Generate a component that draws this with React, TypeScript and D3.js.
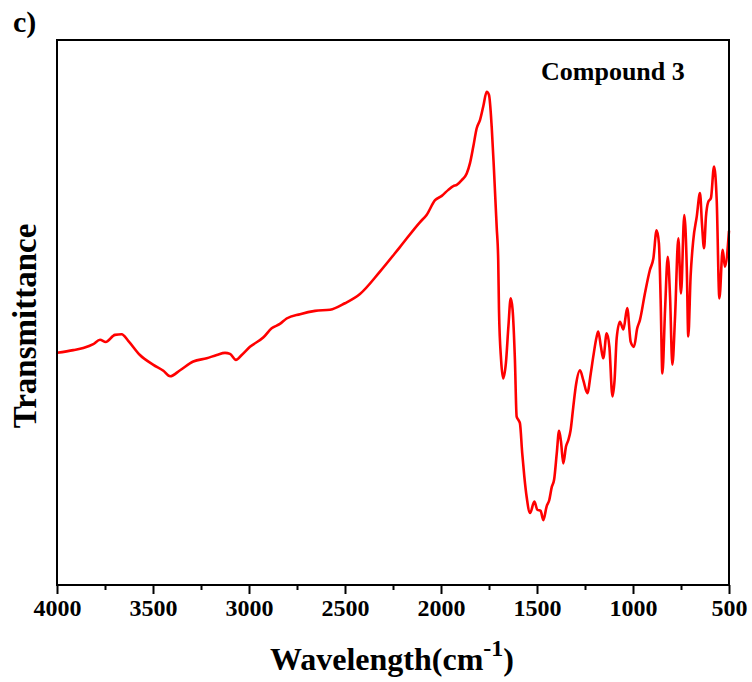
import React, { useEffect, useRef } from "react";
import * as d3 from "d3";

// FT-IR spectrum of compound 3: wavenumber (cm^-1) and relative transmittance (%)
const wavenumbers: number[] = [
  4000, 3915, 3863, 3811, 3776, 3746, 3698, 3663, 3629, 3568,
  3498, 3446, 3411, 3359, 3290, 3220, 3168, 3125, 3099, 3068,
  3038, 2995, 2926, 2882, 2839, 2804, 2734, 2656, 2578, 2500,
  2422, 2318, 2214, 2109, 2075, 2031, 1996, 1962, 1936, 1918,
  1892, 1866, 1849, 1832, 1814, 1797, 1780, 1762, 1750, 1736,
  1724, 1710, 1702, 1698, 1687, 1676, 1662, 1649, 1637, 1627,
  1615, 1606, 1597, 1589, 1577, 1566, 1554, 1536, 1514, 1498,
  1481, 1467, 1450, 1436, 1423, 1411, 1397, 1385, 1375, 1363,
  1349, 1337, 1325, 1311, 1297, 1276, 1259, 1238, 1220, 1207,
  1189, 1181, 1167, 1155, 1137, 1123, 1107, 1096, 1085, 1068,
  1050, 1030, 1012, 995, 978, 964, 938, 912, 894, 877,
  865, 856, 847, 833, 819, 807, 795, 781, 764, 750,
  733, 720, 712, 700, 686, 668, 651, 641, 630, 620,
  608, 594, 578, 564, 550, 533, 521, 500,
];

const transmittance: number[] = [
  42.6, 43.1, 43.5, 44.2, 45.0, 44.6, 45.9, 46.0, 44.8, 42.2,
  40.4, 39.3, 38.3, 39.4, 41.0, 41.6, 42.2, 42.6, 42.4, 41.3,
  42.2, 43.7, 45.4, 47.1, 47.9, 48.9, 49.7, 50.3, 50.5, 51.7,
  53.4, 57.5, 62.0, 66.6, 67.9, 70.6, 71.4, 72.5, 73.2, 73.4,
  74.3, 75.5, 77.4, 80.4, 83.8, 85.3, 87.8, 90.5, 89.9, 84.1,
  76.1, 65.7, 59.6, 50.5, 41.3, 37.9, 40.7, 47.4, 52.6, 50.5,
  41.3, 30.9, 30.3, 29.7, 24.2, 19.9, 16.2, 13.2, 15.3, 13.8,
  13.6, 11.9, 14.4, 15.6, 18.0, 19.3, 24.2, 28.3, 26.3, 22.3,
  25.4, 26.6, 28.4, 32.7, 36.7, 39.4, 37.6, 35.2, 38.8, 41.9,
  45.6, 46.5, 43.7, 41.6, 46.2, 43.7, 34.6, 37.6, 45.3, 48.3,
  46.9, 50.8, 44.6, 43.7, 47.1, 48.6, 53.5, 57.8, 59.9, 65.1,
  62.7, 52.3, 38.8, 50.5, 60.2, 52.9, 40.4, 49.2, 63.6, 53.5,
  67.9, 58.4, 45.6, 56.6, 63.3, 67.6, 71.9, 66.4, 61.8, 67.6,
  70.3, 71.0, 76.8, 70.6, 52.6, 61.5, 58.4, 65.0,
];

const majorTicks: number[] = [4000, 3500, 3000, 2500, 2000, 1500, 1000, 500];
const minorTicks: number[] = [3750, 3250, 2750, 2250, 1750, 1250, 750];

const xTitle = "Wavelength(cm";
const xTitleSup = "-1";
const yTitle = "Transmittance";
const seriesLabel = "Compound 3";
const panelLabel = "c)";

const W = 752;
const H = 682;
const margin = { left: 57, right: 23, top: 40, bottom: 97 };
const FONT = "'Liberation Serif', 'Times New Roman', serif";

export default function App() {
  const ref = useRef<SVGSVGElement>(null);

  useEffect(() => {
    const svg = d3.select(ref.current);
    svg.selectAll("*").remove();

    const x = d3
      .scaleLinear()
      .domain([4000, 500])
      .range([margin.left, W - margin.right]);
    const y = d3
      .scaleLinear()
      .domain([0, 100])
      .range([H - margin.bottom, margin.top]);

    const data = wavenumbers.map((w, i) => ({ w, t: transmittance[i] }));

    // spectrum trace
    const line = d3
      .line<{ w: number; t: number }>()
      .x((d) => x(d.w))
      .y((d) => y(d.t))
      .curve(d3.curveMonotoneX);

    svg
      .append("path")
      .datum(data)
      .attr("d", line)
      .attr("fill", "none")
      .attr("stroke", "#ff0000")
      .attr("stroke-width", 2.6)
      .attr("stroke-linejoin", "round");

    // frame
    svg
      .append("rect")
      .attr("x", margin.left)
      .attr("y", margin.top)
      .attr("width", W - margin.left - margin.right)
      .attr("height", H - margin.top - margin.bottom)
      .attr("fill", "none")
      .attr("stroke", "#000")
      .attr("stroke-width", 2);

    // bottom axis with major labelled ticks
    const axisY = H - margin.bottom;
    const major = svg
      .append("g")
      .attr("transform", `translate(0,${axisY})`)
      .call(
        d3
          .axisBottom(x)
          .tickValues(majorTicks)
          .tickSize(9)
          .tickPadding(5)
          .tickFormat((d) => String(d))
      );
    major.select(".domain").remove();
    major.selectAll("line").attr("stroke", "#000").attr("stroke-width", 2);
    major
      .selectAll("text")
      .attr("fill", "#000")
      .attr("font-family", FONT)
      .attr("font-weight", "bold")
      .attr("font-size", 24);

    const minor = svg
      .append("g")
      .attr("transform", `translate(0,${axisY})`)
      .call(d3.axisBottom(x).tickValues(minorTicks).tickSize(5).tickFormat(() => ""));
    minor.select(".domain").remove();
    minor.selectAll("line").attr("stroke", "#000").attr("stroke-width", 2);

    // x-axis title with superscript
    const xt = svg
      .append("text")
      .attr("x", 392)
      .attr("y", 670)
      .attr("text-anchor", "middle")
      .attr("font-family", FONT)
      .attr("font-weight", "bold")
      .attr("font-size", 32)
      .attr("fill", "#000");
    xt.append("tspan").text(xTitle);
    xt.append("tspan").attr("dy", -14).attr("font-size", 24).text(xTitleSup);
    xt.append("tspan").attr("dy", 14).text(")");

    // y-axis title
    svg
      .append("text")
      .attr("transform", `translate(36,326) rotate(-90)`)
      .attr("text-anchor", "middle")
      .attr("font-family", FONT)
      .attr("font-weight", "bold")
      .attr("font-size", 33)
      .attr("fill", "#000")
      .text(yTitle);

    // series label
    svg
      .append("text")
      .attr("x", 541)
      .attr("y", 80)
      .attr("font-family", FONT)
      .attr("font-weight", "bold")
      .attr("font-size", 26)
      .attr("fill", "#000")
      .text(seriesLabel);

    // panel label
    svg
      .append("text")
      .attr("x", 13)
      .attr("y", 32)
      .attr("font-family", FONT)
      .attr("font-weight", "bold")
      .attr("font-size", 30)
      .attr("fill", "#000")
      .text(panelLabel);
  }, []);

  return (
    <svg
      ref={ref}
      width={W}
      height={H}
      style={{ position: "absolute", left: 0, top: 0, background: "#fff" }}
    />
  );
}
